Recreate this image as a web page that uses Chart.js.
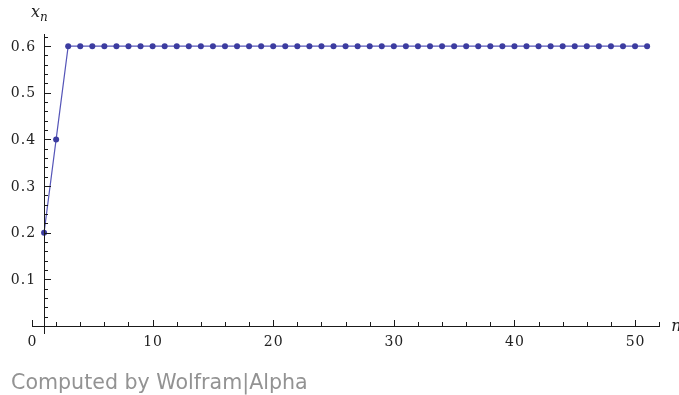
<!DOCTYPE html>
<html>
<head>
<meta charset="utf-8">
<script src="https://cdn.jsdelivr.net/npm/chart.js@4/dist/chart.umd.min.js"></script>
<style>
  html, body { margin: 0; padding: 0; background: #fff; }
  #wrap { position: relative; width: 679px; height: 395px; }
</style>
</head>
<body>
<div id="wrap"><canvas id="chartSeq" width="679" height="395"></canvas></div>
<script>
// x_n sequence, n = 1..51
const nValues = [1, 2, 3, 4, 5, 6, 7, 8, 9, 10, 11, 12, 13, 14, 15, 16, 17, 18, 19, 20,
  21, 22, 23, 24, 25, 26, 27, 28, 29, 30, 31, 32, 33, 34, 35, 36, 37, 38, 39, 40,
  41, 42, 43, 44, 45, 46, 47, 48, 49, 50, 51];
const xnValues = [0.2, 0.4, 0.6, 0.6, 0.6, 0.6, 0.6, 0.6, 0.6, 0.6, 0.6, 0.6, 0.6, 0.6, 0.6, 0.6, 0.6, 0.6, 0.6, 0.6,
  0.6, 0.6, 0.6, 0.6, 0.6, 0.6, 0.6, 0.6, 0.6, 0.6, 0.6, 0.6, 0.6, 0.6, 0.6, 0.6, 0.6, 0.6, 0.6, 0.6,
  0.6, 0.6, 0.6, 0.6, 0.6, 0.6, 0.6, 0.6, 0.6, 0.6, 0.6];
const xTickLabels = [0, 10, 20, 30, 40, 50];
const yTickLabels = [0.1, 0.2, 0.3, 0.4, 0.5, 0.6];

const AXIS_COLOR = "#1a1a1a";
const TICK_FONT = "14px 'DejaVu Serif'";

// Mathematica-style axes crossing at (1, 0)
const wolframAxes = {
  id: "wolframAxes",
  afterDraw(chart) {
    const { ctx, scales: { x, y } } = chart;
    const ox = x.getPixelForValue(1);
    const oy = y.getPixelForValue(0);
    ctx.save();
    ctx.strokeStyle = AXIS_COLOR;
    ctx.lineWidth = 1;

    // axis lines
    ctx.beginPath();
    ctx.moveTo(Math.round(x.getPixelForValue(0)), Math.round(oy) + 0.5);
    ctx.lineTo(Math.round(x.getPixelForValue(52)) + 1, Math.round(oy) + 0.5);
    ctx.moveTo(Math.round(ox) + 0.5, Math.round(y.getPixelForValue(0.625)));
    ctx.lineTo(Math.round(ox) + 0.5, Math.round(oy) + 8);
    ctx.stroke();

    // x ticks every 2, taller on tens
    ctx.beginPath();
    for (let n = 0; n <= 52; n += 2) {
      const px = Math.round(x.getPixelForValue(n)) + 0.5;
      const len = n % 10 === 0 ? 6 : 4;
      ctx.moveTo(px, Math.round(oy));
      ctx.lineTo(px, Math.round(oy) - len);
    }
    // y ticks every 0.02, longer on tenths
    for (let k = 1; k <= 31; k++) {
      const py = Math.round(y.getPixelForValue(k * 0.02)) + 0.5;
      const len = k % 5 === 0 ? 7 : 4;
      ctx.moveTo(Math.round(ox), py);
      ctx.lineTo(Math.round(ox) + len, py);
    }
    ctx.stroke();

    // tick labels
    ctx.fillStyle = "#222";
    ctx.font = TICK_FONT;
    ctx.letterSpacing = "1px";
    ctx.textAlign = "center";
    ctx.textBaseline = "top";
    xTickLabels.forEach(v => {
      ctx.fillText(String(v), x.getPixelForValue(v) + 0.5, oy + 9);
    });
    ctx.textAlign = "right";
    ctx.textBaseline = "middle";
    yTickLabels.forEach(v => {
      ctx.fillText(v.toFixed(1), ox - 8, y.getPixelForValue(v) + 1);
    });
    ctx.letterSpacing = "0px";

    // axis labels
    ctx.font = "italic 16px 'DejaVu Serif'";
    ctx.textAlign = "left";
    ctx.textBaseline = "alphabetic";
    ctx.fillText("x", ox - 13, 17);
    ctx.font = "italic 12px 'DejaVu Serif'";
    ctx.fillText("n", ox - 4, 21);
    ctx.font = "italic 16px 'DejaVu Serif'";
    ctx.fillText("n", x.getPixelForValue(52) + 12, oy + 5);

    // footer
    ctx.fillStyle = "#939393";
    ctx.font = "20.6px 'DejaVu Sans'";
    ctx.fillText("Computed by Wolfram|Alpha", 11, 389);
    ctx.restore();
  }
};

const ctx = document.getElementById("chartSeq");
new Chart(ctx, {
  type: "scatter",
  data: {
    datasets: [{
      label: "x_n",
      data: nValues.map((n, i) => ({ x: n, y: xnValues[i] })),
      showLine: true,
      borderColor: "#5555b8",
      borderWidth: 1.2,
      backgroundColor: "#3c3ca0",
      pointBorderColor: "#3c3ca0",
      pointRadius: 3,
      pointBorderWidth: 0,
      clip: false
    }]
  },
  options: {
    responsive: false,
    animation: false,
    layout: { padding: { left: 32, right: 19, top: 34, bottom: 69 } },
    plugins: { legend: { display: false }, tooltip: { enabled: false } },
    scales: {
      x: { type: "linear", min: 0, max: 52.07, display: false },
      y: { type: "linear", min: 0, max: 0.626, display: false }
    }
  },
  plugins: [wolframAxes]
});
</script>
</body>
</html>
